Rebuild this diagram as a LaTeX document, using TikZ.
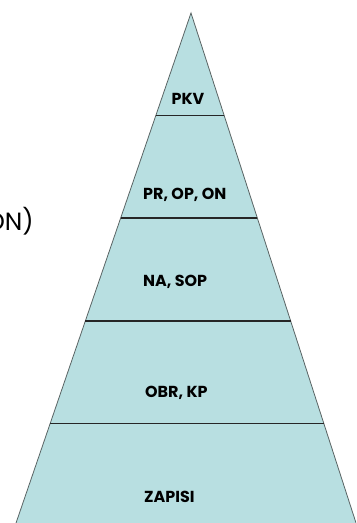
\documentclass[tikz,border=0pt]{standalone}
\usepackage{fontspec}
\setmainfont{Poppins}
\usetikzlibrary{calc}
\definecolor{tierfill}{RGB}{184,223,225}
\definecolor{edgegrey}{RGB}{90,100,100}
\tikzset{
  tierlabel/.style={font=\bfseries\fontsize{16}{19}\selectfont, inner sep=0pt, anchor=west, text=black},
  divider/.style={draw=black!85, line width=1.4bp},
  outline/.style={draw=edgegrey, line width=0.8bp, fill=tierfill},
  sidetext/.style={font=\fontsize{25}{28}\selectfont, inner sep=0pt, anchor=east, text=black}
}
\begin{document}
\begin{tikzpicture}[x=1bp,y=-1bp]
\useasboundingbox (0,0) rectangle (356,523);
\clip (0,0) rectangle (356,523);
\coordinate (apex) at (191,13);
\coordinate (bl) at (15,526);
\coordinate (br) at (357,526);
\path[outline] (apex) -- (br) -- (bl) -- cycle;
\foreach \t/\n in {0.2/a,0.4/b,0.6/c,0.8/d}{
  \coordinate (l\n) at ($(apex)!\t!(bl)$);
  \coordinate (r\n) at ($(apex)!\t!(br)$);
  \draw[divider] (l\n) -- (r\n);
}
\node[tierlabel, anchor=center] (pkv) at (188,99) {PKV};
\node[tierlabel] (pr) at (143,195) {PR, OP, ON};
\node[tierlabel] (na) at (143,282) {NA, SOP};
\node[tierlabel] (obr) at (145,393) {OBR, KP};
\node[tierlabel] (zap) at (144,497) {ZAPISI};
\node[sidetext] (on) at (34,221) {ON)};
\end{tikzpicture}
\end{document}
